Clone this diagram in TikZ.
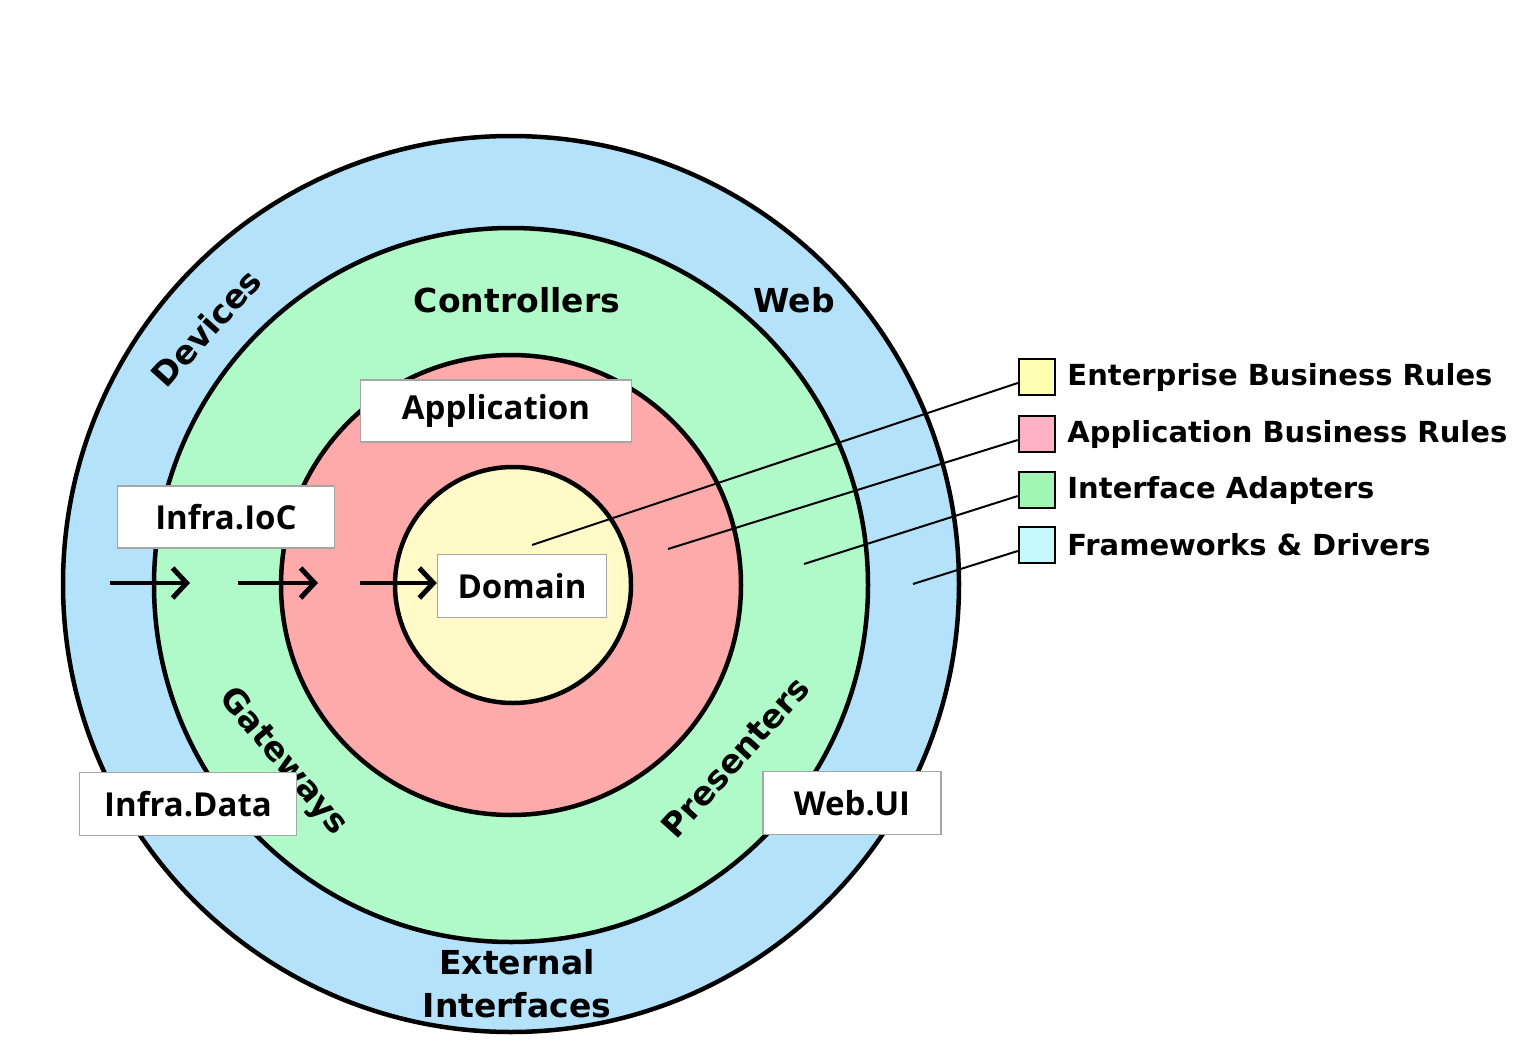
\documentclass[tikz,border=0pt]{standalone}
\usepackage{fontspec}
\setmainfont{DejaVu Sans}
\newfontfamily\boxfont{Open Sans}
\usepackage{xcolor}
\usetikzlibrary{positioning,arrows.meta}

\definecolor{ringblue}{RGB}{180,226,250}
\definecolor{ringgreen}{RGB}{176,250,202}
\definecolor{ringred}{RGB}{255,170,170}
\definecolor{ringyellow}{RGB}{255,250,200}
\definecolor{keyyellow}{RGB}{255,255,178}
\definecolor{keypink}{RGB}{255,178,196}
\definecolor{keygreen}{RGB}{160,246,178}
\definecolor{keycyan}{RGB}{196,248,250}

\begin{document}
\begin{tikzpicture}[
  x=1pt, y=-1pt,
  ring/.style={draw,line width=4.5pt},
  lbl/.style={font=\fontsize{33}{43}\selectfont\bfseries,inner sep=0pt},
  proj/.style={draw=gray!70,line width=1.5pt,fill=white,inner sep=0pt,
               font=\boxfont\fontsize{33}{40}\selectfont\bfseries},
  key/.style={draw,line width=2.5pt,minimum size=36pt,inner sep=0pt},
  keytext/.style={font=\fontsize{29}{34}\selectfont\bfseries,inner sep=0pt},
  dep/.style={-{Straight Barb[length=14pt,width=30pt,line width=5pt]},line width=4.5pt},
  leader/.style={line width=2pt}
]
\useasboundingbox[fill=white] (0,0) rectangle (1524,1044);

% the four rings
\draw[ring,fill=ringblue]   (511,584) circle[radius=448pt];
\draw[ring,fill=ringgreen]  (511,585) circle[radius=357pt];
\draw[ring,fill=ringred]    (511,585) circle[radius=230pt];
\draw[ring,fill=ringyellow] (513,585) circle[radius=118pt];

% ring labels
\node[lbl] (ctrl) at (517,300) {Controllers};
\node[lbl] (web) at (794,300) {Web};
\node[lbl,rotate=48] (dev) at (206,328) {Devices};
\node[lbl,rotate=-50] (gate) at (283,762) {Gateways};
\node[lbl,rotate=48] (pres) at (735,757) {Presenters};
\node[lbl,align=center] (ext) at (517,984) {External\\Interfaces};

% legend
\node[key,fill=keyyellow] (ykey) at (1037,377) {};
\node[key,fill=keypink]   (pkey) at (1037,434) {};
\node[key,fill=keygreen]  (gkey) at (1037,490) {};
\node[key,fill=keycyan]   (ckey) at (1037,545) {};
\node[keytext,right=11pt of ykey] (ytxt) {Enterprise Business Rules};
\node[keytext,right=11pt of pkey] (ptxt) {Application Business Rules};
\node[keytext,right=11pt of gkey] (gtxt) {Interface Adapters};
\node[keytext,right=11pt of ckey] (ctxt) {Frameworks \& Drivers};

\coordinate (ydot) at (532,545);
\coordinate (pdot) at (668,549);
\coordinate (gdot) at (804,564);
\coordinate (cdot) at (913,584);
\draw[leader] ([yshift=-6pt]ykey.west) -- (ydot);
\draw[leader] ([yshift=-6pt]pkey.west) -- (pdot);
\draw[leader] ([yshift=-6pt]gkey.west) -- (gdot);
\draw[leader] ([yshift=-6pt]ckey.west) -- (cdot);

% project boxes
\node[proj,minimum width=271pt,minimum height=62pt] (app) at (496,411) {Application};
\node[proj,minimum width=217pt,minimum height=62pt] (ioc) at (226,517) {Infra.IoC};
\node[proj,minimum width=169pt,minimum height=63pt] (dom) at (522,586) {Domain};
\node[proj,minimum width=217pt,minimum height=63pt] (data) at (188,804) {Infra.Data};
\node[proj,minimum width=178pt,minimum height=63pt] (ui) at (852,803) {Web.UI};

% dependency arrows
\coordinate (a1) at (110,583);
\coordinate (b1) at (190,583);
\coordinate (a2) at (238,583);
\coordinate (b2) at (318,583);
\coordinate (a3) at (360,583);
\draw[dep] (a1) -- (b1);
\draw[dep] (a2) -- (b2);
\draw[dep] (a3) -- (dom.west |- a3);
\end{tikzpicture}
\end{document}
